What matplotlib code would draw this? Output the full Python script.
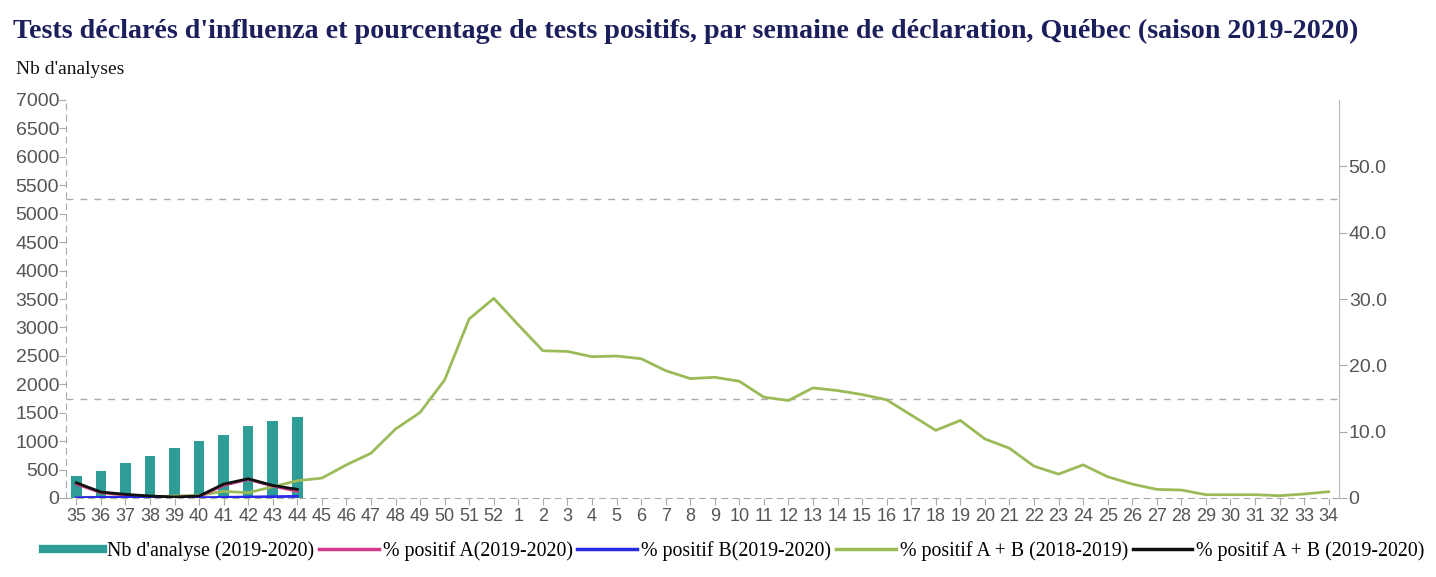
import matplotlib
matplotlib.use("Agg")
import matplotlib.pyplot as plt
from matplotlib.ticker import MultipleLocator
from matplotlib.lines import Line2D

weeks = [str(w) for w in list(range(35, 53)) + list(range(1, 35))]

# Nb d'analyse (2019-2020) for weeks 35-44
nb_analyse = [390, 475, 615, 740, 880, 995, 1110, 1260, 1350, 1420]

# % positif (2019-2020) for weeks 35-44
pos_A_1920 = [2.1, 0.8, 0.45, 0.25, 0.1, 0.2, 1.9, 2.8, 1.8, 1.0]
pos_B_1920 = [0.05, 0.1, 0.1, 0.1, 0.05, 0.05, 0.1, 0.15, 0.2, 0.25]
pos_AB_1920 = [2.3, 0.9, 0.55, 0.3, 0.15, 0.3, 2.1, 2.9, 1.9, 1.3]

# % positif A + B (2018-2019), full season
pos_AB_1819 = [0.1, 0.1, 0.2, 0.2, 0.3, 0.4, 1.0, 0.8, 1.7, 2.6,
               3.0, 5.0, 6.75, 10.4, 12.9, 17.8, 27.0, 30.1,
               26.1, 22.2, 22.1, 21.3, 21.4, 21.0, 19.2, 18.0, 18.2, 17.6,
               15.2, 14.7, 16.6, 16.2, 15.6, 14.8, 12.5, 10.2, 11.7, 8.9,
               7.5, 4.8, 3.6, 5.0, 3.2, 2.1, 1.3, 1.2, 0.5, 0.5, 0.5,
               0.35, 0.6, 0.95]

C_BAR = "#2e9c97"
C_A = "#d13a86"
C_B = "#2a2ae6"
C_GREEN = "#9bbb59"
C_BLACK = "#111111"
C_GRID = "#aaaaaa"
C_TICK = "#555555"

fig = plt.figure(figsize=(14.36, 5.77), dpi=100)
ax = fig.add_axes([66 / 1436, 1 - 498 / 577, (1339 - 66) / 1436, (498 - 100) / 577])
ax2 = ax.twinx()

x = list(range(len(weeks)))
ax.bar(x[:len(nb_analyse)], nb_analyse, width=0.43, color=C_BAR, zorder=3)
ax.set_ylim(0, 7000)
ax.set_xlim(-0.42, len(weeks) - 1 + 0.42)
ax.yaxis.set_major_locator(MultipleLocator(500))
ax.yaxis.set_minor_locator(MultipleLocator(1750))
ax.yaxis.grid(True, which="minor", linestyle=(0, (5, 5)), color=C_GRID, linewidth=1)
ax.tick_params(axis="y", which="minor", length=0)
ax.set_xticks(x)
ax.set_xticklabels(weeks)
ax.set_axisbelow(True)

ax2.plot(x, pos_AB_1819, color=C_GREEN, linewidth=2, zorder=2)
ax2.plot(x[:len(pos_A_1920)], pos_A_1920, color=C_A, linewidth=2, zorder=3)
ax2.plot(x[:len(pos_B_1920)], pos_B_1920, color=C_B, linewidth=2, zorder=3)
ax2.plot(x[:len(pos_AB_1920)], pos_AB_1920, color=C_BLACK, linewidth=2, zorder=4)
ax2.set_ylim(0, 60)
ax2.set_yticks([0, 10, 20, 30, 40, 50])
ax2.set_yticklabels(["0", "10.0", "20.0", "30.0", "40.0", "50.0"])

for a in (ax, ax2):
    for s in a.spines.values():
        s.set_visible(False)

ax.spines["left"].set_visible(True)
ax.spines["left"].set_color(C_GRID)
ax.spines["left"].set_linestyle((0, (5, 5)))
ax.spines["bottom"].set_visible(True)
ax.spines["bottom"].set_color(C_GRID)
ax.spines["bottom"].set_linestyle((0, (5, 5)))
ax2.spines["right"].set_visible(True)
ax2.spines["right"].set_color("#bbbbbb")

ax.tick_params(axis="y", which="major", colors=C_GRID, labelcolor=C_TICK,
               labelsize=14, length=5, pad=0)
ax.tick_params(axis="x", colors=C_GRID, labelcolor=C_TICK, labelsize=13,
               length=5, pad=2)
ax2.tick_params(axis="y", colors=C_GRID, labelcolor=C_TICK, labelsize=14,
                length=6, pad=1)
for lab in ax.get_xticklabels() + ax.get_yticklabels() + ax2.get_yticklabels():
    lab.set_fontfamily("Liberation Sans")

fig.text(13 / 1436, 1 - 31 / 577,
         "Tests déclarés d'influenza et pourcentage de tests positifs, par semaine de déclaration, Québec (saison 2019-2020)",
         fontfamily="Liberation Serif", fontweight="bold", fontsize=20.2,
         color="#1b1f5c", va="center", ha="left")
fig.text(16 / 1436, 1 - 70 / 577, "Nb d'analyses", fontfamily="Liberation Serif",
         fontsize=14, color="#111111", va="center", ha="left")

handles = [
    Line2D([0], [0], color=C_BAR, linewidth=6),
    Line2D([0], [0], color=C_A, linewidth=2.5),
    Line2D([0], [0], color=C_B, linewidth=2.5),
    Line2D([0], [0], color=C_GREEN, linewidth=2.5),
    Line2D([0], [0], color=C_BLACK, linewidth=2.5),
]
labels = ["Nb d'analyse (2019-2020)", "% positif A(2019-2020)", "% positif B(2019-2020)",
          "% positif A + B (2018-2019)", "% positif A + B (2019-2020)"]
fig.legend(handles, labels, loc="center", bbox_to_anchor=(734 / 1436, 1 - 551 / 577),
           ncol=5, frameon=False, handlelength=3.0, handletextpad=0.2,
           columnspacing=0.25, borderpad=0, borderaxespad=0,
           prop={"family": "Liberation Serif", "size": 14.3})

fig.savefig("out.png", dpi=100)
